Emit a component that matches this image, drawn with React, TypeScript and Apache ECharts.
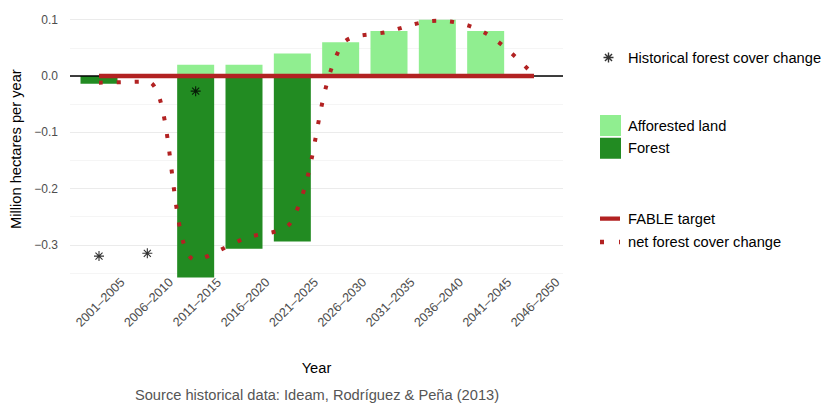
import React, { useEffect, useRef } from "react";
import * as echarts from "echarts";

// ---- data ----
const periods = [
  "2001–2005", "2006–2010", "2011–2015", "2016–2020", "2021–2025",
  "2026–2030", "2031–2035", "2036–2040", "2041–2045", "2046–2050",
];
const afforestedLand = [0, 0, 0.02, 0.02, 0.04, 0.06, 0.08, 0.1, 0.08, 0];
const forest = [-0.014, 0, -0.358, -0.307, -0.294, 0, 0, 0, 0, 0];
const fableTarget = [0, 0, 0, 0, 0, 0, 0, 0, 0, 0];
const netForestCoverChange = [-0.012, -0.01, -0.327, -0.289, -0.256, 0.052, 0.079, 0.098, 0.076, 0.001];
const historicalPeriods = ["2001–2005", "2006–2010", "2011–2015"];
const historicalChange = [-0.32, -0.315, -0.027];
const yTickValues = [-0.3, -0.2, -0.1, 0, 0.1];
const majorGridValues = [-0.3, -0.2, -0.1, 0, 0.1];
const minorGridValues = [-0.35, -0.25, -0.15, -0.05, 0.05];

const FONT = "'Liberation Sans', Arial, Helvetica, sans-serif";
const RED = "#B22222";

function asteriskPath(cx: number, cy: number, r: number, t: number) {
  const parts: string[] = [];
  [0, 45, 90, 135].forEach((deg) => {
    const a = (deg * Math.PI) / 180;
    const c = Math.cos(a);
    const s = Math.sin(a);
    const pts = [[-t, -r], [t, -r], [t, r], [-t, r]].map(
      ([x, y]) => `${(x * c - y * s + cx).toFixed(3)},${(x * s + y * c + cy).toFixed(3)}`
    );
    parts.push(`M${pts[0]} L${pts[1]} L${pts[2]} L${pts[3]} Z`);
  });
  return parts.join(" ");
}

const ASTERISK_SYMBOL = "path://" + asteriskPath(10, 10, 10, 1.1);
// legend icons: bounding box equals itemWidth x itemHeight (23 wide)
const ASTERISK_ICON = "path://" + asteriskPath(8.5, 6, 5, 0.7) + " M0,0 Z M23,12 Z";
const SQUARE_ICON = "path://M0,0 L21,0 L21,21 L0,21 Z M23,0 Z";
const LINE_ICON = "path://M0,0 L20,0 L20,4.3 L0,4.3 Z M23,0 Z";
const DOTTED_ICON = "path://M0,0 L4,0 L4,4.3 L0,4.3 Z M19,0 L20,0 L20,4.3 L19,4.3 Z M23,0 Z";

const idx = (name: string) => periods.indexOf(name);
const fmtY = (v: number) => {
  const s = Math.abs(v) < 1e-9 ? "0.0" : v.toFixed(1);
  return s.replace("-", "\u2212");
};

export default function App() {
  const ref = useRef<HTMLDivElement>(null);
  useEffect(() => {
    if (!ref.current) return;
    const chart = echarts.init(ref.current, null, { renderer: "svg" });
    const legendText = { fontSize: 14.67, color: "#000", fontFamily: FONT };
    const option: any = {
      animation: false,
      textStyle: { fontFamily: FONT },
      grid: { left: 70, top: 8.4, width: 493, height: 281.5, containLabel: false, outerBoundsMode: "none" },
      xAxis: {
        type: "value",
        min: -0.6,
        max: 9.6,
        name: "Year",
        nameLocation: "middle",
        nameGap: 71,
        nameTextStyle: { fontSize: 14.67, color: "#000", fontFamily: FONT },
        axisLine: { show: false },
        axisTick: { show: false },
        splitLine: { show: false },
        axisLabel: {
          customValues: periods.map((_, i) => i),
          formatter: (v: number) => periods[Math.round(v)] ?? "",
          rotate: 45,
          align: "center",
          verticalAlign: "middle",
          margin: 14,
          padding: [4, 0, 0, 4],
          fontSize: 12.6,
          color: "#4D4D4D",
          fontFamily: FONT,
        },
      },
      yAxis: {
        type: "value",
        min: -0.38,
        max: 0.12,
        name: "Million hectares per year",
        nameLocation: "middle",
        nameGap: 42,
        nameTextStyle: { fontSize: 14.67, color: "#000", fontFamily: FONT },
        axisLine: { show: false },
        axisTick: { show: false },
        splitLine: { show: false },
        axisLabel: {
          customValues: yTickValues,
          formatter: (v: number) => fmtY(v),
          margin: 12,
          fontSize: 12,
          color: "#4D4D4D",
          fontFamily: FONT,
        },
      },
      legend: [
        {
          data: [{ name: "Historical forest cover change", icon: ASTERISK_ICON }],
          orient: "vertical",
          left: 600,
          top: 50,
          padding: 0,
          itemWidth: 23,
          itemHeight: 12,
          selectedMode: false,
          textStyle: { ...legendText, lineHeight: 12, width: 170, overflow: "none" },
        },
        {
          data: [
            { name: "Afforested land", icon: SQUARE_ICON },
            { name: "Forest", icon: SQUARE_ICON },
          ],
          orient: "vertical",
          left: 600,
          top: 115,
          padding: 0,
          itemWidth: 23,
          itemHeight: 21,
          itemGap: 1.7,
          selectedMode: false,
          textStyle: { ...legendText, lineHeight: 17 },
        },
        {
          data: [
            { name: "FABLE target", icon: LINE_ICON, itemStyle: { color: RED } },
            { name: "net forest cover change", icon: DOTTED_ICON, itemStyle: { color: RED } },
          ],
          orient: "vertical",
          left: 600,
          top: 210.2,
          padding: 0,
          itemWidth: 23,
          itemHeight: 4.3,
          itemGap: 6.3,
          selectedMode: false,
          textStyle: { ...legendText, lineHeight: 17 },
        },
      ],
      graphic: [
        {
          type: "text",
          x: 317,
          y: 395,
          style: {
            text: "Source historical data: Ideam, Rodríguez & Peña (2013)",
            fontSize: 14.67,
            fontFamily: FONT,
            fill: "#555555",
            textAlign: "center",
            textVerticalAlign: "middle",
          },
        },
      ],
      series: [
        {
          name: "grid",
          type: "line",
          data: [],
          z: 0,
          silent: true,
          markLine: {
            silent: true,
            z: 0,
            symbol: "none",
            label: { show: false },
            data: [
              ...majorGridValues.map((v) => ({ yAxis: v, lineStyle: { color: "#EBEBEB", width: 1.2, type: "solid" } })),
              ...minorGridValues.map((v) => ({ yAxis: v, lineStyle: { color: "#F0F0F0", width: 0.7, type: "solid" } })),
            ],
          },
        },
        {
          name: "Forest",
          type: "bar",
          stack: "total",
          barWidth: 37,
          clip: false,
          itemStyle: { color: "#228B22" },
          data: forest.map((v, i) => [i, v]),
          z: 2,
        },
        {
          name: "Afforested land",
          type: "bar",
          stack: "total",
          barWidth: 37,
          clip: false,
          itemStyle: { color: "#90EE90" },
          data: afforestedLand.map((v, i) => [i, v]),
          z: 2,
        },
        {
          name: "zero",
          type: "line",
          data: [],
          z: 2.5,
          silent: true,
          markLine: {
            silent: true,
            z: 2.5,
            symbol: "none",
            label: { show: false },
            data: [{ yAxis: 0, lineStyle: { color: "#000", width: 1.6, type: "solid" } }],
          },
        },
        {
          name: "FABLE target",
          type: "line",
          symbol: "none",
          itemStyle: { color: RED },
          lineStyle: { color: RED, width: 4.5, cap: "butt" },
          data: fableTarget.map((v, i) => [i, v]),
          z: 3,
        },
        {
          name: "net forest cover change",
          type: "line",
          symbol: "none",
          smooth: 0.35,
          itemStyle: { color: RED },
          lineStyle: { color: RED, width: 4, type: [4, 13.8], cap: "butt" },
          data: netForestCoverChange.map((v, i) => [i, v]),
          z: 4,
        },
        {
          name: "Historical forest cover change",
          type: "scatter",
          symbol: ASTERISK_SYMBOL,
          symbolSize: 10,
          itemStyle: { color: "#000" },
          data: historicalChange.map((v, i) => [idx(historicalPeriods[i]), v]),
          z: 5,
        },
      ],
    };
    chart.setOption(option);
    return () => chart.dispose();
  }, []);
  return (
    <div
      ref={ref}
      style={{ position: "fixed", left: 0, top: 0, width: 824, height: 403, background: "#fff" }}
    />
  );
}
